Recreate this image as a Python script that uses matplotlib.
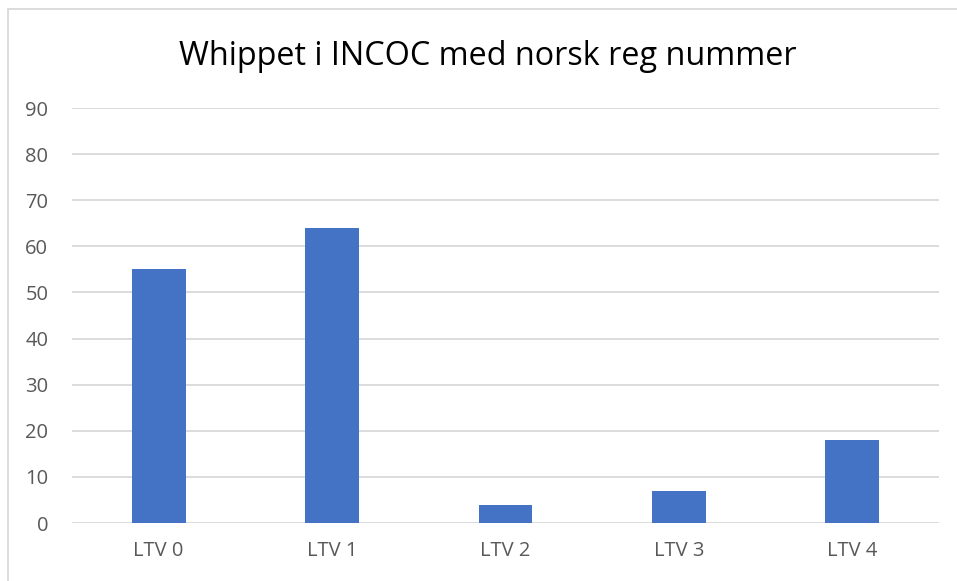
import matplotlib.pyplot as plt
from matplotlib.patches import Rectangle

categories = ['LTV 0', 'LTV 1', 'LTV 2', 'LTV 3', 'LTV 4']
values = [55, 64, 4, 7, 18]
yticks = list(range(0, 100, 10))

plt.rcParams['font.family'] = ['Open Sans', 'DejaVu Sans']

fig = plt.figure(figsize=(9.57, 5.81), dpi=100)
ax = fig.add_axes([0.0752, 0.0998, 0.906, 0.7143])

ax.bar(range(len(categories)), values, width=0.31, color='#4472C4', zorder=3)
ax.set_xlim(-0.5, len(categories) - 0.5)
ax.set_ylim(0, 90)
ax.set_yticks(yticks)
ax.set_xticks(range(len(categories)))
ax.set_xticklabels(categories)
ax.grid(axis='y', color='#D9D9D9', linewidth=1.3, zorder=0)
for s in ax.spines.values():
    s.set_visible(False)
ax.tick_params(length=0, labelsize=14.5, labelcolor='#595959')
ax.tick_params(axis='y', pad=17)
ax.tick_params(axis='x', pad=13)

fig.text(0.51, 0.903, 'Whippet i INCOC med norsk reg nummer', ha='center', va='center',
         fontsize=23.3, color='#000000')

# outer chart border (left/top visible, right/bottom run off the image)
fig.patches.append(Rectangle((8 / 957, -0.05), 1.1, (581 - 9) / 581 + 0.05,
                             transform=fig.transFigure, fill=False,
                             edgecolor='#D9D9D9', linewidth=1.3))

fig.savefig('out.png', dpi=100)
